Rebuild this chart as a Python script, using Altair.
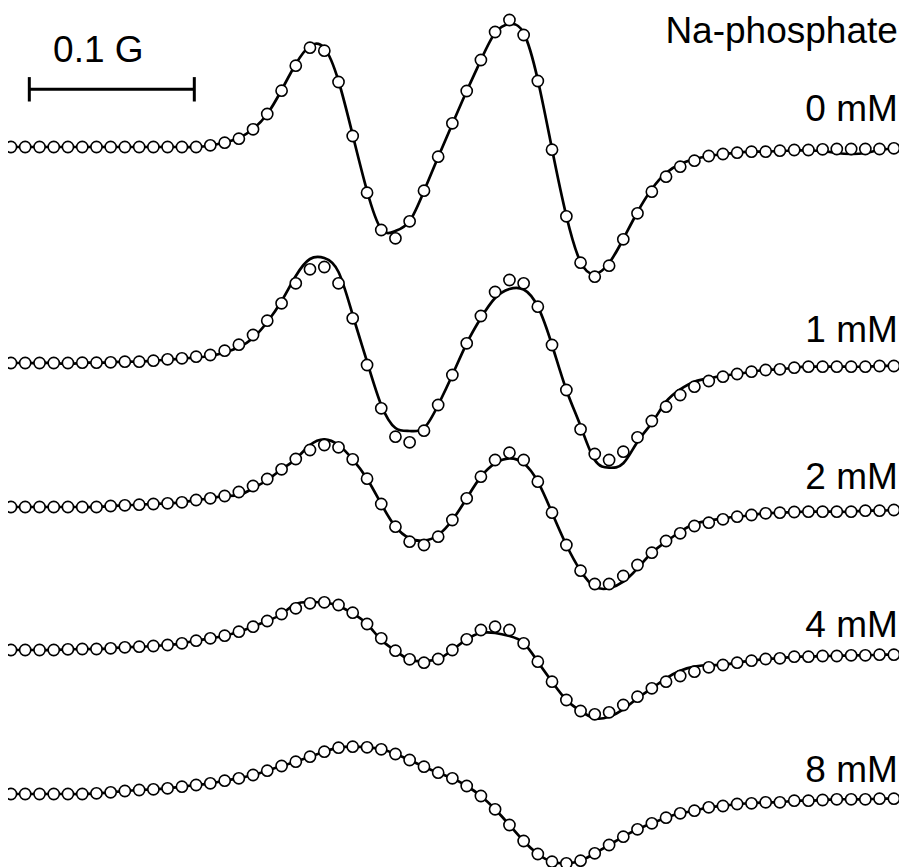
import altair as alt
import pandas as pd

# Magnetic field offset (mG) of each sampled point
FIELD_MG = [0, 8.6, 17.3, 25.9, 34.5, 43.2, 51.8, 60.4, 69.0, 77.7,
            86.3, 94.9, 103.6, 112.2, 120.8, 129.5, 138.1, 146.7, 155.3, 164.0,
            172.6, 181.2, 189.9, 198.5, 207.1, 215.8, 224.4, 233.0, 241.6, 250.3,
            258.9, 267.5, 276.2, 284.8, 293.4, 302.1, 310.7, 319.3, 327.9, 336.6,
            345.2, 353.8, 362.5, 371.1, 379.7, 388.4, 397.0, 405.6, 414.2, 422.9,
            431.5, 440.1, 448.8, 457.4, 466.0, 474.7, 483.3, 491.9, 500.5, 509.2,
            517.8, 526.4, 535.1]

SERIES_TITLE = "Na-phosphate"
CONCENTRATIONS = ["0 mM", "1 mM", "2 mM", "4 mM", "8 mM"]

# Experimental spectra (open circles), arbitrary units
EXP_0 = [0, 0, 0, 0, 0, 0, 0, 0, 0, 0, 0, 0, 0, 0,
         1.7, 4.3, 8.3, 17.7, 33, 56.3, 81.3, 99.3, 96.3, 65, 11, -45.7, -83, -91.3, -74.3, -43.7,
         -9.7, 23.7, 56, 87, 115, 127, 112, 66, -2.7, -69.3, -115.7, -129.7, -118.7, -92.3, -66.3,
         -44.7, -29.7, -19.7, -13.7, -9, -7, -5.7, -4.7, -4.7, -3.7, -3, -3, -2.3, -2, -2, -2, -2, -1.3]
EXP_1 = [0, 0, 0, 0, 0, 0.3, 0.3, 0.7, 1.3, 1.3, 2.3, 3.7, 4.7, 6.3, 8, 12.3, 18.3, 28, 42.3, 59.7,
         79.7, 93.7, 96, 79.7, 44.7, -2, -45.3, -73.7, -79.3, -67.7, -42, -12, 19.7, 47, 71, 83, 79.7,
         56.3, 18, -27, -66.3, -91, -97, -88.7, -74.3, -58, -43.7, -32, -23.7, -18, -13.7, -11, -8.7,
         -7, -6.3, -4.7, -3.7, -3.7, -3.7, -3.7, -3.7, -3, -3]
EXP_2 = [0, 0, 0, 0, 0, 0, 0, 1, 1.7, 2.3, 3, 3.7, 4.7, 7, 8.7, 11, 15, 21, 28, 37.7, 48, 57, 62,
         59.7, 47.7, 28.3, 3, -19.7, -34.7, -38, -29.7, -13, 8.7, 30.3, 47, 54.3, 47, 25.3, -5.7, -38,
         -63.7, -77, -77, -69, -58, -45.7, -34, -26.3, -19, -15.7, -12.3, -9.7, -8, -6.3, -5.7, -5,
         -4.7, -4.7, -4.7, -4.7, -3.7, -3.7, -3]
EXP_3 = [0, 0, 0, 0, 0.7, 1, 1, 1.7, 2.7, 3.3, 4, 5, 6.7, 9.3, 11.7, 14.3, 18.3, 23.3, 29, 36, 41.7,
         46.7, 47.7, 45, 37.3, 26, 11.7, -0.7, -9.3, -12.7, -9, 0, 10.7, 20, 23.3, 20, 6.7, -11.7, -31.7,
         -50, -61, -64.3, -62.3, -55, -46.7, -38.3, -31.7, -26, -21.7, -17.3, -15, -12.7, -10.7, -9,
         -8.3, -6.7, -6.7, -6, -6, -5.3, -5.3, -4.7, -4.7]
EXP_4 = [0, 0, 0, 0, 0, 0, 0.7, 1.7, 3, 4, 4.7, 5.7, 7.3, 9, 10.7, 13.3, 15.7, 19, 23.3, 28, 32.3,
         37.3, 42.3, 46.3, 47.3, 46.7, 44.7, 40, 34, 27.3, 21.3, 15.7, 8, -2, -15.3, -31, -47, -60,
         -67.7, -69.3, -66.7, -59.3, -51, -42.7, -35.3, -29.3, -23.7, -19.3, -16.7, -13.3, -12, -10,
         -9.3, -8.3, -8.3, -6.7, -6.7, -6, -5.3, -5.3, -5.3, -4.7, -4.7]

# Simulated spectra (solid lines), arbitrary units
FIT_0 = [0, 0, 0, 0, 0, 0, 0, 0, 0, 0, 0, 0, 0, 0,
         1.5, 4.5, 9, 18, 33, 57, 83, 101, 99, 66, 12, -44, -82, -84, -74, -44,
         -10, 23, 56, 87, 114, 123, 114, 67, -2, -69, -115, -127, -116, -92, -65,
         -42, -26, -17, -12, -9, -7, -5.7, -4.7, -4.5, -4, -3.5, -3.5, -4, -6, -7, -6, -3, -1.5]
FIT_1 = [0, 0, 0, 0, -1, 0.3, 0.3, 0.7, 1.3, 1.3, 2.3, 3.3, 4.3, 5.5, 7, 10.5, 15.7, 25, 41, 62,
         87, 104, 105, 91, 48, 1.3, -42, -65, -68, -65, -42, -12, 19.7, 45, 65, 74, 73.5,
         56.3, 18, -27, -63, -97, -104.7, -100.3, -78.7, -60, -38.7, -26.3, -18.7, -15.3, -12.7, -11, -8.7,
         -7, -6.3, -4.7, -3.7, -3.7, -3.7, -3.7, -3.7, -3, -3]
FIT_2 = [0, 0, 0, 0, 0, 0, 0, 1, 1.7, 2.3, 3, 3.7, 4.7, 7, 8.7, 11, 12, 18.7, 27, 37.7, 48, 62, 67.7,
         62, 47.7, 28.3, 3, -19.7, -31.3, -33.7, -28, -13, 8.7, 30.3, 43.7, 48.7, 43.7, 25.3, -5.7, -38,
         -63.7, -79.7, -81.3, -74.7, -61.3, -45.7, -34.7, -24.7, -17, -13.7, -11.3, -9.7, -8, -6.3, -5.7, -5,
         -4.7, -4.7, -4.7, -4.7, -3.7, -3.7, -3]
FIT_3 = [0, 0, 0, 0, 0.7, 1, 1, 1.7, 2.7, 3.3, 4, 5, 6.7, 9.3, 11.7, 14.3, 18.3, 23.3, 29, 36, 46,
         48, 47.5, 44, 36.7, 26, 10, -0.7, -10, -11, -9, 0, 10.7, 17, 17, 14, 7, -11.7, -31.7,
         -50, -61, -68.3, -66.7, -59.3, -48.3, -38.3, -28.3, -20.7, -16.7, -15, -15, -12.7, -10.7, -9,
         -8.3, -6.7, -6.7, -6, -6, -5.3, -5.3, -4.7, -4.7]
FIT_4 = [0, 0, 0, 0, 0, 0, 0.7, 1.7, 3, 4, 4.7, 5.7, 7.3, 9, 10.7, 13.3, 15.7, 19, 23.3, 28, 32.3,
         37.3, 42.3, 46.3, 47.3, 46.7, 44.7, 40, 34, 27.3, 21.3, 15.7, 8, -2, -15.3, -31, -47, -60,
         -67.7, -69.3, -66.7, -59.3, -51, -42.7, -35.3, -29.3, -23.7, -19.3, -16.7, -13.3, -12, -10,
         -9.3, -8.3, -8.3, -6.7, -6.7, -6, -5.3, -5.3, -5.3, -4.7, -4.7]

EXP = [EXP_0, EXP_1, EXP_2, EXP_3, EXP_4]
FIT = [FIT_0, FIT_1, FIT_2, FIT_3, FIT_4]

SCALE_LABEL = "0.1 G"
SCALE_BAR_MG = 100

# ---- layout (vertical stacking offsets, label positions) ----
TRACE_OFFSET = [720, 504, 360, 217, 73]
LABEL_Y = [746, 525, 378, 230, 85]
TITLE_Y = 824
LABEL_X = 537.5
BAR_X0 = 11.1
BAR_Y = 777.7
BAR_TICK = 12.2
SCALE_TEXT_X = 25.5
SCALE_TEXT_Y = 805

rows = []
for i, lab in enumerate(CONCENTRATIONS):
    for f, e, s in zip(FIELD_MG, EXP[i], FIT[i]):
        rows.append({"field": f, "trace": lab,
                     "exp": TRACE_OFFSET[i] + e, "fit": TRACE_OFFSET[i] + s})
df = pd.DataFrame(rows)

labels = pd.DataFrame({"text": [SERIES_TITLE] + CONCENTRATIONS,
                       "x": [LABEL_X] * 6,
                       "y": [TITLE_Y] + LABEL_Y})
bar = pd.DataFrame({"x": [BAR_X0], "x2": [BAR_X0 + SCALE_BAR_MG], "y": [BAR_Y]})
ticks = pd.DataFrame({"x": [BAR_X0, BAR_X0 + SCALE_BAR_MG],
                      "y": [BAR_Y - BAR_TICK] * 2, "y2": [BAR_Y + BAR_TICK] * 2})
scale_txt = pd.DataFrame({"text": [SCALE_LABEL], "x": [SCALE_TEXT_X], "y": [SCALE_TEXT_Y]})

W, H = 891, 859
xs = alt.Scale(domain=[-1.82, 538.2], nice=False, zero=False)
ys = alt.Scale(domain=[0, 859], nice=False, zero=False)
FONT = "Liberation Sans"

lines = alt.Chart(df).mark_line(color="black", strokeWidth=2.7, interpolate="natural").encode(
    x=alt.X("field:Q", scale=xs, axis=None),
    y=alt.Y("fit:Q", scale=ys, axis=None),
    detail="trace:N",
)
points = alt.Chart(df).mark_point(shape="circle", filled=False, fill="white", fillOpacity=1,
                                  stroke="black", strokeWidth=1.6, size=125, opacity=1).encode(
    x=alt.X("field:Q", scale=xs, axis=None),
    y=alt.Y("exp:Q", scale=ys, axis=None),
    detail="trace:N",
)
texts = alt.Chart(labels).mark_text(align="right", baseline="alphabetic", fontSize=37,
                                    font=FONT, color="black").encode(
    x=alt.X("x:Q", scale=xs, axis=None),
    y=alt.Y("y:Q", scale=ys, axis=None),
    text="text:N",
)
bar_rule = alt.Chart(bar).mark_rule(color="black", strokeWidth=3).encode(
    x=alt.X("x:Q", scale=xs, axis=None), x2="x2:Q",
    y=alt.Y("y:Q", scale=ys, axis=None),
)
tick_rule = alt.Chart(ticks).mark_rule(color="black", strokeWidth=3).encode(
    x=alt.X("x:Q", scale=xs, axis=None),
    y=alt.Y("y:Q", scale=ys, axis=None), y2="y2:Q",
)
bar_text = alt.Chart(scale_txt).mark_text(align="left", baseline="alphabetic", fontSize=37,
                                          font=FONT, color="black").encode(
    x=alt.X("x:Q", scale=xs, axis=None),
    y=alt.Y("y:Q", scale=ys, axis=None),
    text="text:N",
)

chart = alt.layer(lines, points, texts, bar_rule, tick_rule, bar_text).properties(
    width=W, height=H, autosize="none", padding=0, background="white"
).configure_view(strokeWidth=0)

chart.save("out.html", embed_options={"renderer": "svg", "actions": False})
